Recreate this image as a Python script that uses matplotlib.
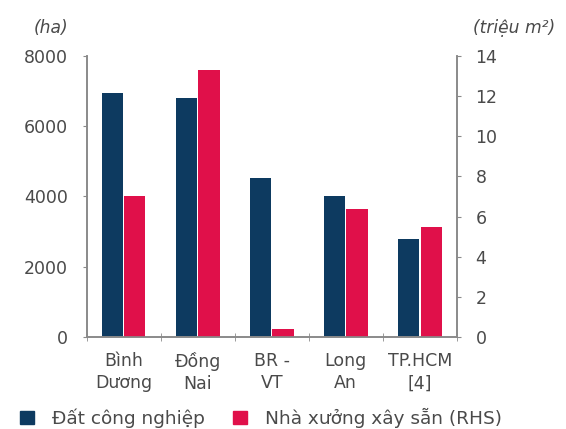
import matplotlib
matplotlib.use("Agg")
import matplotlib.pyplot as plt
import numpy as np
from matplotlib.patches import Patch

categories = ["Bình\nDương", "Đồng\nNai", "BR -\nVT", "Long\nAn", "TP.HCM\n[4]"]
dat_cong_nghiep = [6950, 6800, 4540, 4000, 2800]        # ha (left axis)
nha_xuong = [7.0, 13.3, 0.4, 6.4, 5.5]                   # triệu m² (right axis)
left_ticks = [0, 2000, 4000, 6000, 8000]
right_ticks = [0, 2, 4, 6, 8, 10, 12, 14]

navy = "#0D3A60"
red = "#E0104A"
txt = "#4a4a4a"
spine_c = "#8a8a8a"

plt.rcParams['font.family'] = ['DejaVu Sans']

fig = plt.figure(figsize=(5.66, 4.29), dpi=100)
ax = fig.add_axes([0.153, 0.2145, 0.654, 0.655])
ax2 = ax.twinx()

x = np.arange(len(categories))
w = 0.285
off = 0.153
ax.bar(x - off, dat_cong_nghiep, width=w, color=navy, zorder=2)
ax2.bar(x + off, nha_xuong, width=w, color=red, zorder=2)

ax.set_xlim(-0.5, len(categories) - 0.5)
ax.set_ylim(0, 8000)
ax2.set_ylim(0, 14)
ax.set_yticks(left_ticks)
ax2.set_yticks(right_ticks)
ax.set_xticks(x)
ax.set_xticklabels(categories, fontsize=12.5, color=txt, linespacing=1.3)
ax.set_xticks(np.arange(-0.5, len(categories)), minor=True)
ax.tick_params(axis='x', which='major', length=0, pad=11)
ax.tick_params(axis='x', which='minor', length=6, direction='inout', color=spine_c)
ax.tick_params(axis='y', labelsize=12.5, labelcolor=txt, color=spine_c, length=3, direction='out', pad=10.5)
ax2.tick_params(axis='y', labelsize=12.5, labelcolor=txt, color=spine_c, length=3, direction='out', pad=10.5)

for a in (ax, ax2):
    a.spines['top'].set_visible(False)
    for s in ('left', 'right', 'bottom'):
        a.spines[s].set_color(spine_c)
        a.spines[s].set_linewidth(1.2)

fig.text(68 / 566, 1 - 28 / 429, "(ha)", fontsize=12.3, style='italic', color=txt,
         va='center', ha='right')
fig.text(473 / 566, 1 - 28 / 429, "(triệu m²)", fontsize=12.3, style='italic', color=txt,
         va='center', ha='left')

handles = [Patch(color=navy), Patch(color=red)]
fig.legend(handles, ["Đất công nghiệp", "Nhà xưởng xây sẵn (RHS)"], loc='center left',
           bbox_to_anchor=(20 / 566, 1 - 418 / 429), ncol=2, frameon=False, fontsize=13.3,
           handlelength=0.75, handleheight=0.75, columnspacing=1.5, handletextpad=1.0,
           borderpad=0, borderaxespad=0, labelcolor=txt)

fig.savefig("out.png", dpi=100)
